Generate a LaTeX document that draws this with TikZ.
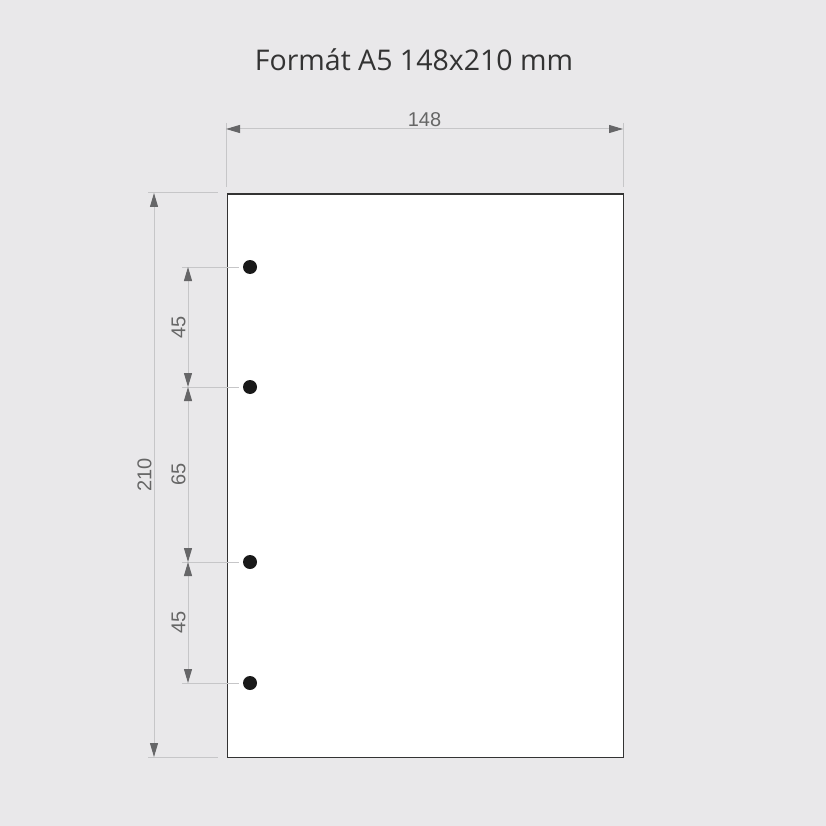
\documentclass[tikz,border=0pt]{standalone}
\usepackage{fontspec}
\setmainfont{Liberation Sans}
\newfontfamily\titlefont{Open Sans}
\usetikzlibrary{arrows.meta,calc}
\definecolor{bg}{HTML}{E9E8EA}
\definecolor{dimline}{HTML}{C6C6C8}
\definecolor{dimtip}{HTML}{666668}
\definecolor{dimtext}{HTML}{666666}
\tikzset{
  dimarrow/.style={draw=dimline, line width=1pt,
    {Triangle[length=14pt,width=8pt,color=dimtip]}-{Triangle[length=14pt,width=8pt,color=dimtip]}},
  extline/.style={draw=dimline, line width=1pt},
  dimlabel/.style={text=dimtext, font=\fontsize{20}{20}\selectfont, inner sep=2pt},
  hole/.style={circle, fill=black!90, inner sep=0pt, minimum size=14pt},
}

\begin{document}
\begin{tikzpicture}[x=1pt,y=-1pt]
		\fill[bg] (0,0) rectangle (826,826);
		\useasboundingbox (0,0) rectangle (826,826);
		\node[font=\titlefont\fontsize{28.5}{28.5}\selectfont, text=black!80] (title) at (414,60) {Formát A5 148x210 mm};
		% page A5
		\node[draw=black!80, fill=white, line width=1.5pt, minimum width=396pt, minimum height=563pt, inner sep=0pt, anchor=north west] (page) at (226.5,193.5) {};
		% width 148
		\coordinate (w1) at (226,123); \coordinate (w2) at (226,187);
		\coordinate (w3) at (623,123); \coordinate (w4) at (623,187);
		\draw[extline] (w1) -- (w2);
		\draw[extline] (w3) -- (w4);
		\draw[dimarrow] (226,129) -- node[dimlabel, above] (l148) {148} (623,129);
		% height 210
		\coordinate (t1) at (148,193); \coordinate (t2) at (218,193);
		\coordinate (t3) at (148,757); \coordinate (t4) at (218,757);
		\draw[extline] (t1) -- (t2);
		\draw[extline] (t3) -- (t4);
		\draw[dimarrow] (154,193) -- node[dimlabel, rotate=90, anchor=south] (l210) {210} (154,757);
		% holes
		\foreach \y[count=\i] in {267,387,562,683}{
		\node[hole] (h\i) at (250,\y) {};
		\coordinate (e\i) at (182,\y);
		\coordinate (d\i) at (188,\y);
		\draw[extline] (e\i) -- ($(h\i)+(-11,0)$);
		}
		\foreach \a/\b/\t in {1/2/45, 2/3/65, 3/4/45}{
		\draw[dimarrow] (d\a) -- node[dimlabel, rotate=90, anchor=south] (l\a\b) {\t} (d\b);
		}
		\end{tikzpicture}
\end{document}
